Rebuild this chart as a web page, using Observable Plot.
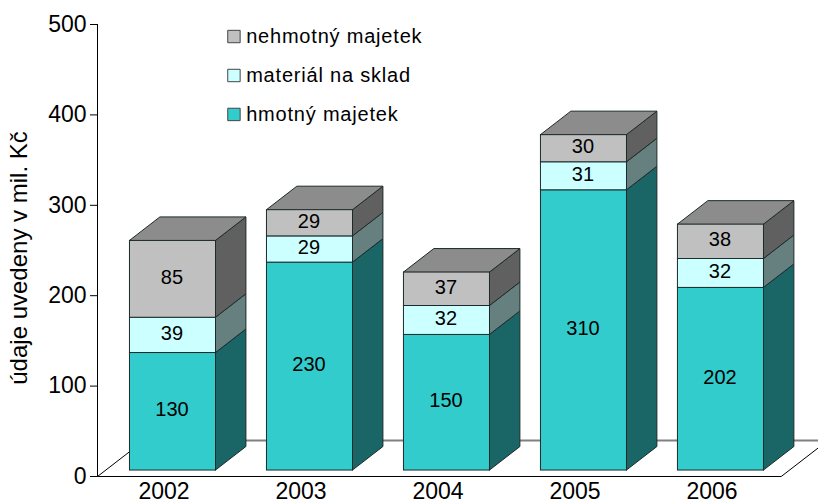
<!DOCTYPE html>
<html>
<head>
<meta charset="utf-8">
<script src="https://cdn.jsdelivr.net/npm/d3@7"></script>
<script src="https://cdn.jsdelivr.net/npm/@observablehq/plot@0.6"></script>
<style>
html,body{margin:0;padding:0;background:#fff}
svg{display:block}
.legend-text text{letter-spacing:.8px}
</style>
</head>
<body>
<div id="chart"></div>
<script>
const years = ["2002","2003","2004","2005","2006"];
const hmotny = [130,230,150,310,202];
const material = [39,29,32,31,32];
const nehmotny = [85,29,37,30,38];
const seriesNames = ["hmotný majetek","materiál na sklad","nehmotný majetek"];
const yTicks = [0,100,200,300,400,500];
const yTitle = "údaje uvedeny v mil. Kč";

const font = "'Liberation Sans', Arial, sans-serif";
const frontColors = ["#33CCCC","#CCFFFF","#C0C0C0"];
const sideColors = ["#1A6666","#668080","#606060"];
const topColor = "#8C8C8C";
const edge = "#1c2a2a";

// 3D box geometry, in scale units
const halfW = 0.314, depthX = 0.222, depthY = 26, baseY = 6.6;
const floorDepth = 39.8;
const floorLeft = -0.551, floorRight = 4.44;

const segs = [];
years.forEach((yr,i)=>{
  let b = baseY;
  [hmotny[i],material[i],nehmotny[i]].forEach((v,s)=>{
    segs.push({i,s,v,b,t:b+v,key:yr+"-"+s});
    b += v;
  });
});
const sideRows = segs.flatMap(d=>[
  {key:d.key,s:d.s,x:d.i+halfW,y1:d.b,y2:d.t},
  {key:d.key,s:d.s,x:d.i+halfW+depthX,y1:d.b+depthY,y2:d.t+depthY}
]);
const topSegs = segs.filter(d=>d.s===2);
const topRows = topSegs.flatMap(d=>[
  {key:d.key,y:d.t,x1:d.i-halfW,x2:d.i+halfW},
  {key:d.key,y:d.t+depthY,x1:d.i-halfW+depthX,x2:d.i+halfW+depthX}
]);
const dxPerY = depthX/depthY;
const floorBack = [{x:floorLeft+floorDepth*dxPerY,y:floorDepth},{x:floorRight+floorDepth*dxPerY,y:floorDepth}];
const floorEdges = [
  [{x:floorLeft,y:0},{x:floorLeft+floorDepth*dxPerY,y:floorDepth}],
  [{x:floorRight,y:0},{x:floorRight+floorDepth*dxPerY,y:floorDepth}]
];
const floorFront = [{x:floorLeft,y:0},{x:floorRight,y:0}];

const legendRows = [2,1,0].map((s,k)=>({s,name:seriesNames[s],y:[486.7,443.6,400.5][k]}));

const marks = [
  Plot.line(floorBack,{x:"x",y:"y",stroke:"#808080",strokeWidth:2,clip:"frame"}),
  ...floorEdges.map(e=>Plot.line(e,{x:"x",y:"y",stroke:"#000",strokeWidth:1,clip:"frame"})),
  Plot.line(floorFront,{x:"x",y:"y",stroke:"#000",strokeWidth:1.2}),
  Plot.ruleX([floorLeft],{y1:0,y2:500,stroke:"#000",strokeWidth:1}),
  Plot.axisY({ticks:yTicks,tickSize:7,tickPadding:4,fontSize:23,anchor:"left",label:null,stroke:"#000"}),
  Plot.axisX({ticks:[0,1,2,3,4],tickFormat:i=>years[i],tickSize:0,tickPadding:6,fontSize:23,label:null,dx:-9}),
  Plot.text([yTitle],{frameAnchor:"left",textAnchor:"middle",y:241.7,rotate:-90,dx:-78,fontSize:24,fill:"#000"}),
  Plot.areaY(sideRows.filter(d=>d.s===0),{x:"x",y1:"y1",y2:"y2",z:"key",fill:sideColors[0],stroke:edge,strokeWidth:1}),
  Plot.areaY(sideRows.filter(d=>d.s===1),{x:"x",y1:"y1",y2:"y2",z:"key",fill:sideColors[1],stroke:edge,strokeWidth:1}),
  Plot.areaY(sideRows.filter(d=>d.s===2),{x:"x",y1:"y1",y2:"y2",z:"key",fill:sideColors[2],stroke:edge,strokeWidth:1}),
  Plot.areaX(topRows,{y:"y",x1:"x1",x2:"x2",z:"key",fill:topColor,stroke:edge,strokeWidth:1}),
  Plot.rect(segs,{x1:d=>d.i-halfW,x2:d=>d.i+halfW,y1:"b",y2:"t",fill:d=>frontColors[d.s],stroke:edge,strokeWidth:1}),
  Plot.text(segs,{x:"i",y:d=>(d.b+d.t)/2,text:d=>String(d.v),fontSize:20,fill:"#000",dx:-1,dy:-2}),
  Plot.dot(legendRows,{x:0.445,y:"y",symbol:"square",r:7,fill:d=>frontColors[d.s],stroke:"#444",strokeWidth:1}),
  Plot.text(legendRows,{x:0.534,y:"y",text:"name",textAnchor:"start",fontSize:20,fill:"#000",className:"legend-text"})
];

const chart = Plot.plot({
  width:818,height:504,
  marginLeft:97,marginRight:0,marginTop:24,marginBottom:28,
  style:{fontFamily:font,background:"#fff",color:"#000"},
  x:{type:"linear",domain:[floorLeft,4.712]},
  y:{domain:[0,500]},
  marks
});
document.getElementById("chart").appendChild(chart);
</script>
</body>
</html>
